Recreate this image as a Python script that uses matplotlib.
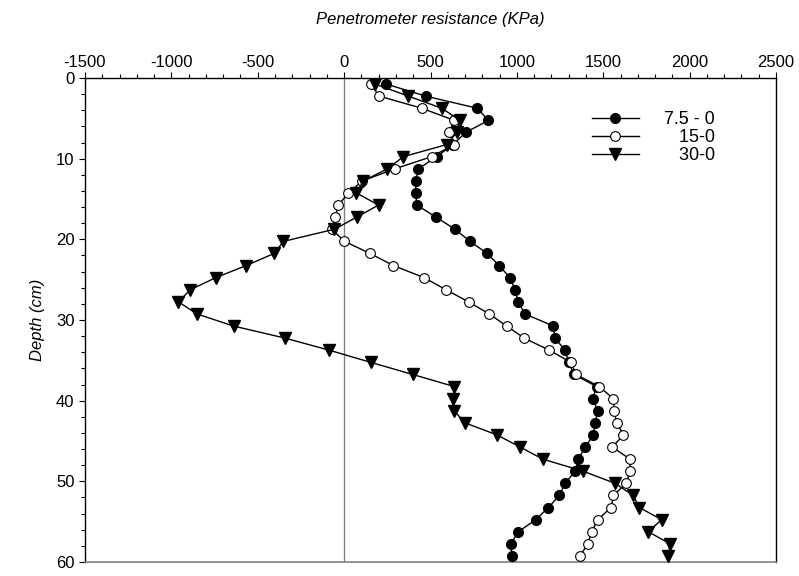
import matplotlib
matplotlib.use("Agg")
import matplotlib.pyplot as plt
import numpy as np
from matplotlib.ticker import MultipleLocator

plt.rcParams["font.family"] = ["Liberation Sans", "DejaVu Sans"]
plt.rcParams["axes.unicode_minus"] = False

# depth of each reading (cm)
depth = np.arange(40) * 1.5 + 0.75

# penetrometer resistance differences (KPa)
res_7_5 = [243, 473, 771, 835, 704, 630, 536, 430, 415, 415,
           420, 532, 642, 729, 828, 897, 960, 990, 1007, 1047,
           1211, 1221, 1279, 1300, 1330, 1462, 1439, 1468, 1453, 1443,
           1395, 1356, 1337, 1279, 1246, 1182, 1109, 1009, 965, 970]
res_15 = [154, 203, 450, 637, 608, 637, 507, 295, 106, 25,
          -33, -52, -71, 2, 150, 285, 463, 590, 720, 840,
          941, 1043, 1188, 1312, 1343, 1476, 1559, 1563, 1578, 1617,
          1553, 1655, 1655, 1632, 1559, 1545, 1468, 1433, 1410, 1366]
res_30 = [179, 372, 565, 671, 652, 594, 343, 251, 112, 71,
          199, 73, -56, -351, -405, -567, -743, -891, -959, -852,
          -640, -341, -85, 154, 397, 637, 633, 637, 700, 885,
          1019, 1150, 1385, 1568, 1674, 1709, 1838, 1761, 1887, 1877]

labels = ["7.5 - 0", "   15-0", "   30-0"]

fig = plt.figure(figsize=(7.99, 5.76), dpi=100)
ax = fig.add_axes([85 / 799, 1 - 562 / 576, 691 / 799, 484 / 576])

ax.axvline(0, color="#808080", lw=1.0, zorder=1)

common = dict(color="black", lw=1.0, zorder=3)
ax.plot(res_7_5, depth, marker="o", markersize=7, markerfacecolor="black",
        markeredgecolor="black", label=labels[0], **common)
ax.plot(res_15, depth, marker="o", markersize=7, markerfacecolor="white",
        markeredgecolor="black", markeredgewidth=0.8, label=labels[1], **common)
ax.plot(res_30, depth, marker="v", markersize=8, markerfacecolor="black",
        markeredgecolor="black", label=labels[2], **common)

ax.set_xlim(-1500, 2500)
ax.set_ylim(60, 0)
ax.xaxis.set_major_locator(MultipleLocator(500))
ax.xaxis.set_minor_locator(MultipleLocator(100))
ax.yaxis.set_major_locator(MultipleLocator(10))
ax.yaxis.set_minor_locator(MultipleLocator(2))
ax.xaxis.tick_top()
ax.xaxis.set_label_position("top")
ax.tick_params(axis="x", which="both", top=True, bottom=False, direction="out")
ax.tick_params(axis="y", which="both", left=True, right=False, direction="out")
ax.tick_params(which="major", length=4, width=0.8, labelsize=12)
ax.tick_params(which="minor", length=3, width=0.8)
ax.tick_params(axis="x", pad=2)

ax.spines["bottom"].set_color("#808080")
ax.spines["bottom"].set_linewidth(1.2)
for s in ("top", "left", "right"):
    ax.spines[s].set_linewidth(1.0)

ax.set_xlabel("Penetrometer resistance (KPa)", fontsize=12, style="italic", labelpad=22)
ax.set_ylabel("Depth (cm)", fontsize=12, style="italic", labelpad=8)

ax.legend(loc="upper left", bbox_to_anchor=(0.71, 0.965), frameon=False,
          fontsize=13, handlelength=2.6, labelspacing=0.05, handletextpad=1.4)

fig.savefig("out.png", dpi=100)
